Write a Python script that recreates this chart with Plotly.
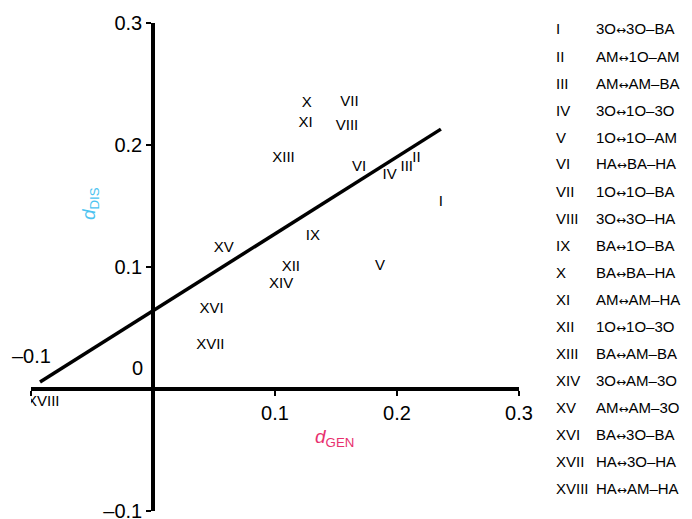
import plotly.graph_objects as go

# roman labels and their (d_GEN, d_DIS) positions
labels = ["I", "II", "III", "IV", "V", "VI", "VII", "VIII", "IX",
          "X", "XI", "XII", "XIII", "XIV", "XV", "XVI", "XVII", "XVIII"]
d_gen = [0.236, 0.216, 0.208, 0.194, 0.186, 0.169, 0.161, 0.159, 0.131,
         0.126, 0.125, 0.113, 0.107, 0.105, 0.058, 0.048, 0.047, -0.090]
d_dis = [0.153, 0.189, 0.182, 0.175, 0.101, 0.182, 0.235, 0.215, 0.125,
         0.234, 0.218, 0.100, 0.189, 0.086, 0.115, 0.065, 0.036, -0.011]

pairs = ["3O↔3O–BA", "AM↔1O–AM", "AM↔AM–BA", "3O↔1O–3O", "1O↔1O–AM",
         "HA↔BA–HA", "1O↔1O–BA", "3O↔3O–HA", "BA↔1O–BA", "BA↔BA–HA",
         "AM↔AM–HA", "1O↔1O–3O", "BA↔AM–BA", "3O↔AM–3O", "AM↔AM–3O",
         "BA↔3O–BA", "HA↔3O–HA", "HA↔AM–HA"]

# regression line end points
fit_x = [-0.0926, 0.236]
fit_y = [0.0057, 0.213]

FONT = "Arial, Liberation Sans, sans-serif"
BLUE = "#4cc3f0"
PINK = "#e8306e"

fig = go.Figure()

fig.add_trace(go.Scatter(
    x=fit_x, y=fit_y, mode="lines",
    line=dict(color="black", width=3.5),
    showlegend=False, hoverinfo="skip"
))

fig.add_trace(go.Scatter(
    x=d_gen, y=d_dis, mode="text", text=labels,
    textposition="middle center",
    textfont=dict(family=FONT, size=15, color="black"),
    showlegend=False
))

# key on the right (page is offset 8px by the body margin)
for i, (lab, p) in enumerate(zip(labels, pairs)):
    ypx = 29 + 27 * i
    yp = (511 - ypx) / 488
    fig.add_annotation(x=(554 - 31) / 488, y=yp, xref="paper", yref="paper",
                       text=lab, showarrow=False, xanchor="left", yanchor="middle",
                       font=dict(family=FONT, size=15, color="black"))
    txt = p.replace("↔", "<span style='font-family:DejaVu Sans;font-size:12px'>↔</span>")
    fig.add_annotation(x=(594 - 31) / 488, y=yp, xref="paper", yref="paper",
                       text=txt, showarrow=False, xanchor="left", yanchor="middle",
                       font=dict(family=FONT, size=15, color="black"))

# odd tick labels
fig.add_annotation(x=-0.1, y=0.027, text="–0.1", showarrow=False,
                   font=dict(family=FONT, size=20, color="black"))
fig.add_annotation(x=-0.0125, y=0.017, text="0", showarrow=False,
                   font=dict(family=FONT, size=20, color="black"))

# axis titles
fig.add_annotation(x=0.149, y=-0.040, text="<i>d</i><sub>GEN</sub>", showarrow=False,
                   font=dict(family=FONT, size=19, color=PINK))
fig.add_annotation(x=-0.052, y=0.152, text="<i>d</i><sub>DIS</sub>", showarrow=False,
                   textangle=-90, font=dict(family=FONT, size=19, color=BLUE))

axis_style = dict(
    range=[-0.1, 0.3], anchor="free", position=0.25, automargin=False,
    showgrid=False, zeroline=False,
    showline=True, linecolor="black", linewidth=3.5,
    ticks="outside", ticklen=5, tickwidth=2, tickcolor="black",
    tickvals=[-0.1, 0.1, 0.2, 0.3], ticklabeloverflow="allow",
    tickfont=dict(family=FONT, size=20, color="black"),
)

fig.update_layout(
    width=684, height=511,
    margin=dict(l=23, r=173, t=15, b=8, autoexpand=False),
    paper_bgcolor="white", plot_bgcolor="white",
    xaxis=dict(axis_style, ticktext=["", "0.1", "0.2", "0.3"]),
    yaxis=dict(axis_style, ticktext=["–0.1", "0.1", "0.2", "0.3"]),
)

fig.write_html("out.html")
